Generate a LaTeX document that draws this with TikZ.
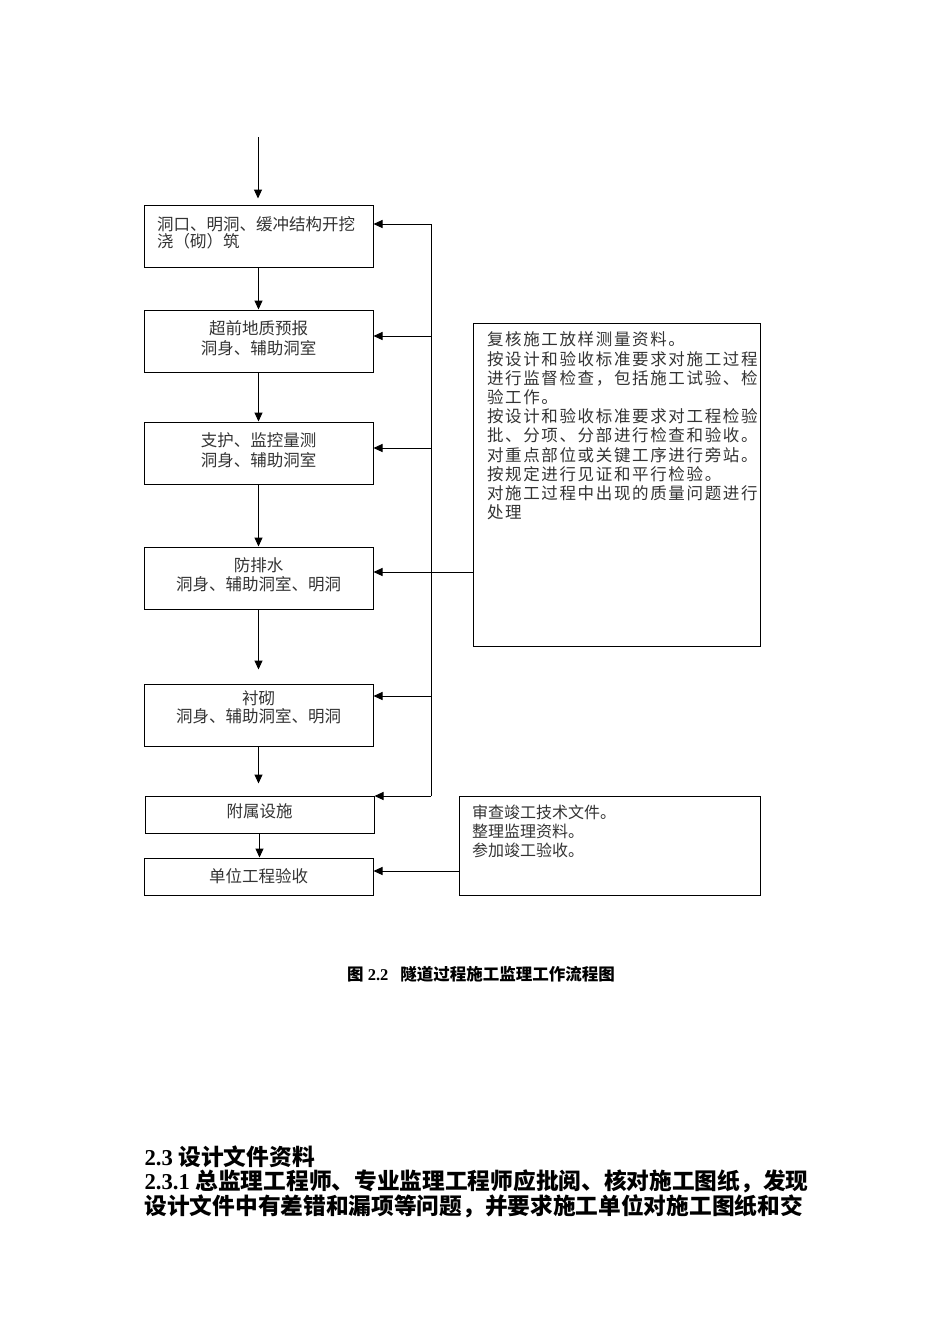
\documentclass[tikz,border=0pt]{standalone}
\usepackage{fontspec}
\setmainfont{Liberation Serif}
\newfontfamily\cjk{Noto Sans CJK SC}
\newfontfamily\cjkwide{Noto Sans CJK SC}[LetterSpace=10]
\usetikzlibrary{arrows.meta,positioning,calc}

\begin{document}
\begin{tikzpicture}[x=1pt,y=-1pt,line width=1pt,>={Triangle[length=9pt,width=8pt]},
  stage/.style={draw,minimum width=229pt,minimum height=62pt,inner sep=0pt,align=center,
    font=\cjk\fontsize{16.5}{19.5}\selectfont,text=black!80},
  frame/.style={draw,inner sep=0pt},
  memo/.style={inner sep=0pt,align=left,anchor=north west,text=black!80},
  body/.style={anchor=west,inner sep=0pt,font=\bfseries\fontsize{22.7}{25}\selectfont}]
\useasboundingbox (0,0) rectangle (950,1344);
% flow of the works
\node[stage,align=left,text width=203pt,text depth=25pt,font=\cjk\fontsize{16.5}{17}\selectfont]
  (portal) at (258.5,236) {洞口、明洞、缓冲结构开挖\\浇（砌）筑};
\node[stage,text depth=7pt] (forecast) at (258.5,341) {超前地质预报\\洞身、辅助洞室};
\node[stage,text depth=7pt] (support) at (258.5,453) {支护、监控量测\\洞身、辅助洞室};
\node[stage,text depth=8pt] (drain) at (258.5,578) {防排水\\洞身、辅助洞室、明洞};
\node[stage,text depth=16pt,font=\cjk\fontsize{16.5}{18}\selectfont] (lining) at (258.5,715) {衬砌\\洞身、辅助洞室、明洞};
\node[stage,minimum height=37pt,text depth=8pt] (facility) at (259.5,814.5) {附属设施};
\node[stage,minimum height=37pt] (accept) at (258.5,876.5) {单位工程验收};
% supervision notes
\node[frame,minimum width=287pt,minimum height=323pt] (check) at (616.5,484.5) {};
\node[memo,font=\cjkwide\fontsize{16.5}{19.2}\selectfont] (checktext)
  at ([xshift=14pt,yshift=-9pt]check.north west)
  {复核施工放样测量资料。\\按设计和验收标准要求对施工过程\\进行监督检查，包括施工试验、检\\验工作。\\按设计和验收标准要求对工程检验\\批、分项、分部进行检查和验收。\\对重点部位或关键工序进行旁站。\\按规定进行见证和平行检验。\\对施工过程中出现的质量问题进行\\处理};
\node[frame,minimum width=301pt,minimum height=99pt] (final) at (609.5,845.5) {};
\node[memo,font=\cjk\fontsize{16}{19}\selectfont] (finaltext)
  at ([xshift=13pt,yshift=-9pt]final.north west)
  {审查竣工技术文件。\\整理监理资料。\\参加竣工验收。};
% main arrows
\coordinate (entry) at (258,137);
\draw[->,shorten >=6pt] (entry) -- (entry |- portal.north);
\draw[->] (portal) -- (forecast);
\draw[->] (forecast) -- (support);
\draw[->] (support) -- (drain);
\draw[->,shorten >=14pt] (drain) -- (lining);
\draw[->,shorten >=12pt] (lining.south) -- (lining.south |- facility.north);
\draw[->] (facility.south) -- (facility.south |- accept.north);
% feedback line
\foreach \n/\y in {fb1/224,fb2/336,fb3/448,fb5/696,fb6/796}
  \coordinate (\n) at (431,\y);
\draw (fb1) -- (fb6);
\draw[->] (fb1) -- (fb1 -| portal.east);
\draw[->] (fb2) -- (fb2 -| forecast.east);
\draw[->] (fb3) -- (fb3 -| support.east);
\draw[->] (fb5) -- (fb5 -| lining.east);
\draw[->] (fb6) -- (fb6 -| facility.east);
\coordinate (chk) at (473,572);
\draw[->] (chk) -- (chk -| drain.east);
\coordinate (fin) at (459,871);
\draw[->] (fin) -- (fin -| accept.east);
% caption and text below
\node[font=\bfseries\fontsize{16.5}{19}\selectfont] (caption) at (481,974)
  {{\cjk 图} 2.2\hspace{12pt}{\cjk 隧道过程施工监理工作流程图}};
\node[body] (section) at (144,1157) {2.3 {\cjk 设计文件资料}};
\node[body] (line1) at (144,1181) {2.3.1 {\cjk 总监理工程师、专业监理工程师应批阅、核对施工图纸，发现}};
\node[body] (line2) at (144,1206) {{\cjk 设计文件中有差错和漏项等问题，并要求施工单位对施工图纸和交}};
\end{tikzpicture}
\end{document}
